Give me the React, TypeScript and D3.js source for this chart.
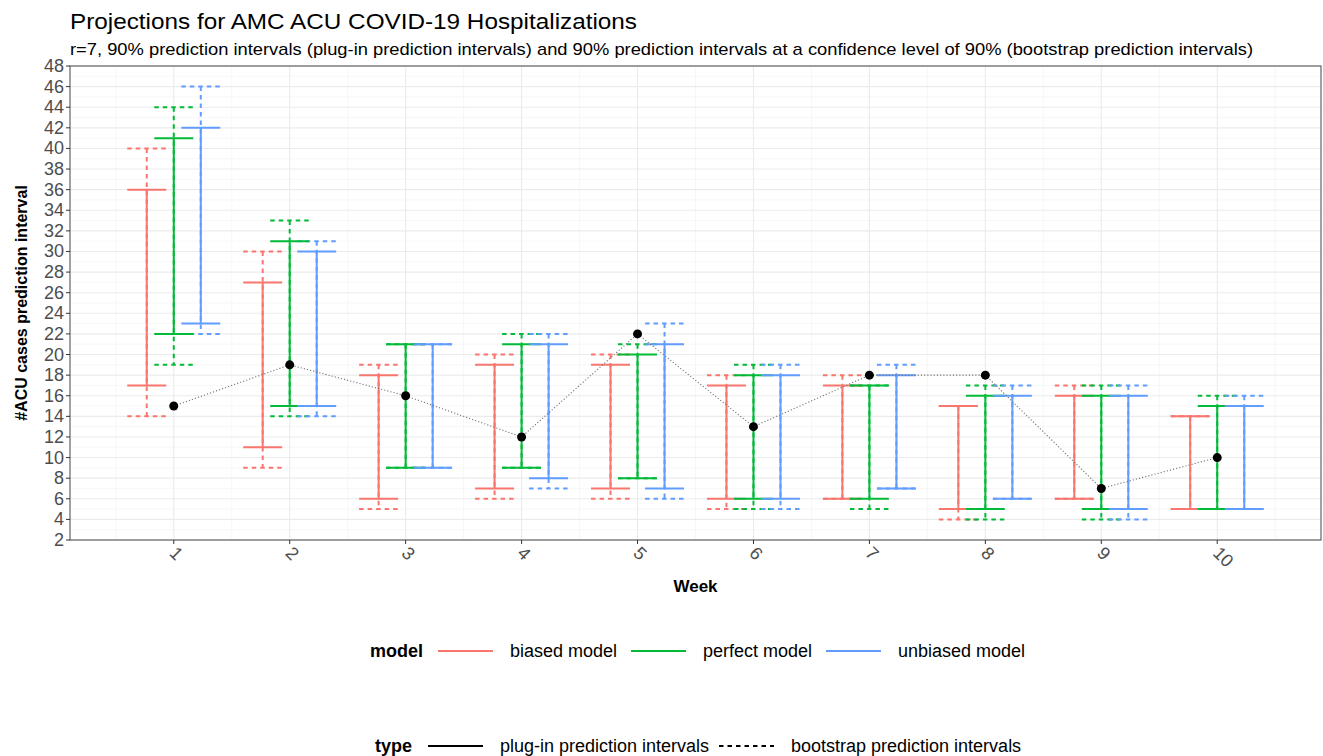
import * as d3 from 'd3'

// observed weekly ACU hospitalizations
const weeks = [1, 2, 3, 4, 5, 6, 7, 8, 9, 10]
const observed = [15, 19, 16, 12, 22, 13, 18, 18, 7, 10]

const models = ['biased model', 'perfect model', 'unbiased model']
const colors = ['#F8766D', '#00BA38', '#619CFF']

// plug-in prediction intervals
const biasedPlugLo = [17, 11, 6, 7, 7, 6, 6, 5, 6, 5]
const biasedPlugHi = [36, 27, 18, 19, 19, 17, 17, 15, 16, 14]
const perfectPlugLo = [22, 15, 9, 9, 8, 6, 6, 5, 5, 5]
const perfectPlugHi = [41, 31, 21, 21, 20, 18, 17, 16, 16, 15]
const unbiasedPlugLo = [23, 15, 9, 8, 7, 6, 7, 6, 5, 5]
const unbiasedPlugHi = [42, 30, 21, 21, 21, 18, 18, 16, 16, 15]

// bootstrap prediction intervals
const biasedBootLo = [14, 9, 5, 6, 6, 5, 6, 4, 6, 5]
const biasedBootHi = [40, 30, 19, 20, 20, 18, 18, 15, 17, 14]
const perfectBootLo = [19, 14, 9, 9, 8, 5, 5, 4, 4, 5]
const perfectBootHi = [44, 33, 21, 22, 21, 19, 17, 17, 17, 16]
const unbiasedBootLo = [22, 14, 9, 7, 6, 5, 7, 6, 4, 5]
const unbiasedBootHi = [46, 31, 21, 22, 23, 19, 19, 17, 17, 16]

const yTicks = d3.range(2, 49, 2)

const plugLo = [biasedPlugLo, perfectPlugLo, unbiasedPlugLo]
const plugHi = [biasedPlugHi, perfectPlugHi, unbiasedPlugHi]
const bootLo = [biasedBootLo, perfectBootLo, unbiasedBootLo]
const bootHi = [biasedBootHi, perfectBootHi, unbiasedBootHi]

const font = 'Liberation Sans, Arial, sans-serif'

const App = () => {
  const width = 1323
  const height = 756
  const left = 70
  const right = 1321
  const top = 66
  const bottom = 540

  const x = d3.scaleLinear().domain([0.105, 10.895]).range([left, right])
  const y = d3.scaleLinear().domain([2, 48]).range([bottom, top])

  const dodge = 0.233
  const half = 0.168

  const errorPath = (w: number, m: number, lo: number, hi: number) => {
    const cx = w + (m - 1) * dodge
    const x0 = x(cx - half)
    const x1 = x(cx + half)
    return `M${x0},${y(hi)}H${x1}M${x(cx)},${y(hi)}V${y(lo)}M${x0},${y(lo)}H${x1}`
  }

  const obsLine = d3
    .line<number>()
    .x((d, i) => x(weeks[i]))
    .y(d => y(d))(observed)

  const minorY = d3.range(3, 48, 2)
  const minorX = d3.range(0.5, 11, 1)

  return (
    <svg
      width={width}
      height={height}
      style={{ position: 'absolute', left: 0, top: 0, background: 'white' }}
      fontFamily={font}
    >
      <text x={70} y={28.5} fontSize={22} fill="#000" textLength={567} lengthAdjust="spacingAndGlyphs">
        Projections for AMC ACU COVID-19 Hospitalizations
      </text>
      <text x={70} y={55} fontSize={17} fill="#000" textLength={1183} lengthAdjust="spacingAndGlyphs">
        r=7, 90% prediction intervals (plug-in prediction intervals) and 90% prediction intervals at a
        confidence level of 90% (bootstrap prediction intervals)
      </text>

      {/* grid */}
      <g>
        {minorY.map(v => (
          <line key={'my' + v} x1={left} x2={right} y1={y(v)} y2={y(v)} stroke="#F2F2F2" strokeWidth={0.6} />
        ))}
        {minorX.map(v => (
          <line key={'mx' + v} x1={x(v)} x2={x(v)} y1={top} y2={bottom} stroke="#F2F2F2" strokeWidth={0.6} />
        ))}
        {yTicks.map(v => (
          <line key={'gy' + v} x1={left} x2={right} y1={y(v)} y2={y(v)} stroke="#EBEBEB" strokeWidth={1.1} />
        ))}
        {weeks.map(v => (
          <line key={'gx' + v} x1={x(v)} x2={x(v)} y1={top} y2={bottom} stroke="#EBEBEB" strokeWidth={1.1} />
        ))}
      </g>

      {/* bootstrap intervals (dashed) */}
      <g fill="none" strokeWidth={2} strokeDasharray="4.5,4">
        {models.map((m, mi) =>
          weeks.map((w, i) => (
            <path
              key={'b' + mi + '-' + i}
              d={errorPath(w, mi, bootLo[mi][i], bootHi[mi][i])}
              stroke={colors[mi]}
            />
          ))
        )}
      </g>

      {/* plug-in intervals (solid) */}
      <g fill="none" strokeWidth={2}>
        {models.map((m, mi) =>
          weeks.map((w, i) => (
            <path
              key={'p' + mi + '-' + i}
              d={errorPath(w, mi, plugLo[mi][i], plugHi[mi][i])}
              stroke={colors[mi]}
            />
          ))
        )}
      </g>

      {/* observed */}
      <path d={obsLine || ''} fill="none" stroke="#777" strokeWidth={1.1} strokeDasharray="1.2,2" />
      {observed.map((v, i) => (
        <circle key={'o' + i} cx={x(weeks[i])} cy={y(v)} r={4.5} fill="#000" />
      ))}

      {/* panel border */}
      <rect x={left} y={top} width={right - left} height={bottom - top} fill="none" stroke="#555" strokeWidth={1.1} />

      {/* y axis */}
      <g fontSize={18} fill="#4D4D4D">
        {yTicks.map(v => (
          <g key={'yt' + v}>
            <line x1={left - 4} x2={left} y1={y(v)} y2={y(v)} stroke="#333" strokeWidth={1} />
            <text x={left - 6} y={y(v)} textAnchor="end" dominantBaseline="central">
              {v}
            </text>
          </g>
        ))}
      </g>

      {/* x axis */}
      <g fontSize={18} fill="#4D4D4D">
        {weeks.map(w => (
          <g key={'xt' + w}>
            <line x1={x(w)} x2={x(w)} y1={bottom} y2={bottom + 4} stroke="#333" strokeWidth={1} />
            <text
              transform={`translate(${x(w) - 1},${bottom + 10}) rotate(45)`}
              textAnchor="start"
              dominantBaseline="central"
            >
              {w}
            </text>
          </g>
        ))}
      </g>

      <text x={(left + right) / 2} y={592} textAnchor="middle" fontSize={17} fontWeight="bold">
        Week
      </text>
      <text
        transform={`translate(27,${(top + bottom) / 2}) rotate(-90)`}
        textAnchor="middle"
        fontSize={16}
        fontWeight="bold"
      >
        #ACU cases prediction interval
      </text>

      {/* legend: model */}
      <g fontSize={18}>
        <text x={370} y={657} fontWeight="bold">
          model
        </text>
        {models.map((m, i) => {
          const kx = [438, 631, 826][i]
          const tx = [510, 703, 898][i]
          return (
            <g key={'lm' + i}>
              <line x1={kx} x2={kx + 55} y1={651} y2={651} stroke={colors[i]} strokeWidth={2} />
              <text x={tx} y={657}>
                {m}
              </text>
            </g>
          )
        })}
      </g>

      {/* legend: type */}
      <g fontSize={18}>
        <text x={375} y={752} fontWeight="bold">
          type
        </text>
        <line x1={428} x2={483} y1={746} y2={746} stroke="#000" strokeWidth={2} />
        <text x={500} y={752}>
          plug-in prediction intervals
        </text>
        <line x1={719} x2={774} y1={746} y2={746} stroke="#000" strokeWidth={2} strokeDasharray="4.5,4" />
        <text x={791} y={752}>
          bootstrap prediction intervals
        </text>
      </g>
    </svg>
  )
}

export default App
